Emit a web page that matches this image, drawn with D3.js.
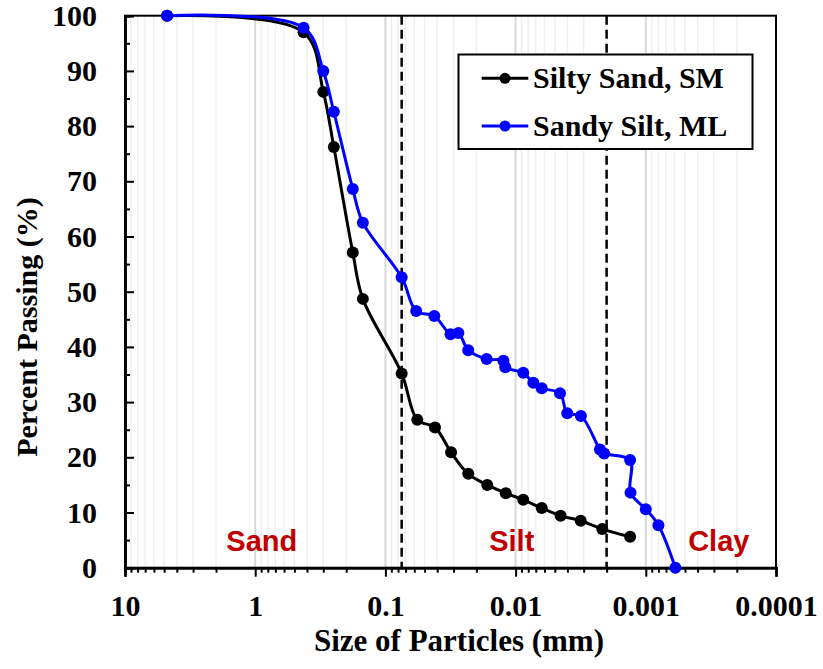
<!DOCTYPE html>
<html>
<head>
<meta charset="utf-8">
<script src="https://cdn.jsdelivr.net/npm/d3@7"></script>
<style>
    body { margin: 0; background: #fff; }
    svg text { font-family: "Liberation Serif", "Times New Roman", Times, "DejaVu Serif", serif; font-weight: bold; }
</style>
</head>
<body>
<svg id="chart" width="823" height="669"></svg>
<script>
// grain size (mm) and percent passing
let smSize = [4.75, 0.425, 0.30, 0.249, 0.178, 0.149, 0.075, 0.0569, 0.0416, 0.0313, 0.0231, 0.0165, 0.0119, 0.00873, 0.0063, 0.00451, 0.00316, 0.00216, 0.00132];
let smPass = [100, 97.0, 86.2, 76.2, 57.1, 48.7, 35.2, 26.8, 25.4, 20.9, 17.0, 15.0, 13.5, 12.3, 10.8, 9.4, 8.5, 7.0, 5.6];

let mlSize = [4.75, 0.425, 0.30, 0.249, 0.178, 0.149, 0.075, 0.058, 0.0421, 0.0316, 0.0275, 0.0231, 0.0167, 0.0124, 0.012, 0.00873, 0.00731, 0.0063, 0.00456, 0.00401, 0.00315, 0.00225, 0.00209, 0.00132, 0.00131, 0.001, 0.0008, 0.000593];
let mlPass = [100, 97.8, 90.0, 82.6, 68.6, 62.5, 52.6, 46.5, 45.6, 42.3, 42.5, 39.4, 37.8, 37.5, 36.3, 35.3, 33.5, 32.5, 31.6, 28.0, 27.5, 21.4, 20.7, 19.5, 13.6, 10.6, 7.7, 0];

let seriesNames = ["Silty Sand, SM", "Sandy Silt, ML"];
let seriesColors = ["#000000", "#0000ff"];

let xTickValues = [10, 1, 0.1, 0.01, 0.001, 0.0001];
let yTickValues = [0, 10, 20, 30, 40, 50, 60, 70, 80, 90, 100];
let yMinorValues = [5, 15, 25, 35, 45, 55, 65, 75, 85, 95];

// boundaries: sand/silt 0.075 mm, silt/clay 0.002 mm
let boundaries = [0.075, 0.002];
let zoneNames = ["Sand", "Silt", "Clay"];
let zoneSize = [0.89, 0.0107, 0.000275];

const serif = "'Liberation Serif', 'Times New Roman', Times, 'DejaVu Serif', serif";

let svg = d3.select("#chart");
let margin = {top: 15.7, right: 47, bottom: 101.3, left: 125},
    width = 823 - margin.left - margin.right,
    height = 669 - margin.top - margin.bottom;

let x = d3.scaleLog().domain([10, 0.0001]).range([margin.left, margin.left + width]);
let y = d3.scaleLinear().domain([0, 100]).range([margin.top + height, margin.top]);

function isMajor(d) {
    return xTickValues.some(function (v) { return Math.abs(v - d) / v < 1e-6; });
}
let allTicks = x.ticks().filter(function (d) { return d < 9.99 && d > 0.000101; });
let minorTicks = x.ticks().filter(function (d) { return !isMajor(d); });

// vertical grid
svg.append("g").selectAll("line")
    .data(allTicks)
    .enter().append("line")
    .attr("x1", function (d) { return x(d); })
    .attr("x2", function (d) { return x(d); })
    .attr("y1", y(100))
    .attr("y2", y(0))
    .attr("stroke", function (d) { return isMajor(d) ? "#d9d9d9" : "#efefef"; })
    .attr("stroke-width", function (d) { return isMajor(d) ? 2 : 1.5; });

// boundary lines
svg.append("g").selectAll("line")
    .data(boundaries)
    .enter().append("line")
    .attr("x1", function (d) { return x(d); })
    .attr("x2", function (d) { return x(d); })
    .attr("y1", y(100))
    .attr("y2", y(0))
    .attr("stroke", "#000")
    .attr("stroke-width", 2.5)
    .attr("stroke-dasharray", "9,5");

// plot border
svg.append("rect")
    .attr("x", x(10)).attr("y", y(100))
    .attr("width", x(0.0001) - x(10)).attr("height", y(0) - y(100))
    .attr("fill", "none").attr("stroke", "#000").attr("stroke-width", 2);

// x axis
svg.append("g")
    .attr("transform", "translate(0," + y(0) + ")")
    .call(d3.axisBottom(x).tickValues(xTickValues).tickSize(9).tickPadding(18)
        .tickFormat(function (d) { return String(d); }));
svg.append("g")
    .attr("transform", "translate(0," + y(0) + ")")
    .call(d3.axisBottom(x).tickValues(minorTicks).tickSize(5).tickFormat(""));

// y axis
svg.append("g")
    .attr("transform", "translate(" + x(10) + ",0)")
    .call(d3.axisLeft(y).tickValues(yTickValues).tickSize(-9).tickPadding(28));
svg.append("g")
    .attr("transform", "translate(" + x(10) + ",0)")
    .call(d3.axisLeft(y).tickValues(yMinorValues).tickSize(-5).tickFormat(""));

svg.selectAll("g").attr("font-family", null);
svg.selectAll(".domain").attr("stroke", "#000").attr("stroke-width", 2.5);
svg.selectAll(".tick line").attr("stroke", "#000").attr("stroke-width", 2);
svg.selectAll(".tick text")
    .attr("fill", "#000")
    .style("font-family", serif)
    .style("font-weight", "bold")
    .style("font-size", "30px");

// axis titles
svg.append("text")
    .attr("x", 459).attr("y", 651)
    .attr("text-anchor", "middle")
    .style("font-family", serif)
    .style("font-size", "31px")
    .text("Size of Particles (mm)");

svg.append("text")
    .attr("transform", "translate(37,327) rotate(-90)")
    .attr("text-anchor", "middle")
    .style("font-family", serif)
    .style("font-size", "30px")
    .text("Percent Passing (%)");

// zone labels
svg.append("g").selectAll("text")
    .data(zoneNames)
    .enter().append("text")
    .attr("x", function (d, i) { return x(zoneSize[i]); })
    .attr("y", y(3))
    .attr("text-anchor", "middle")
    .attr("fill", "#c00000")
    .style("font-family", "'Liberation Sans', Arial, sans-serif")
    .style("font-size", "29px")
    .text(function (d) { return d; });

// series
let series = [
    {name: seriesNames[0], color: seriesColors[0], pts: smSize.map(function (s, i) { return [s, smPass[i]]; })},
    {name: seriesNames[1], color: seriesColors[1], pts: mlSize.map(function (s, i) { return [s, mlPass[i]]; })}
];

let line = d3.line()
    .x(function (d) { return x(d[0]); })
    .y(function (d) { return y(d[1]); })
    .curve(d3.curveCatmullRom.alpha(0.5));

series.forEach(function (s) {
    svg.append("path")
        .datum(s.pts)
        .attr("fill", "none")
        .attr("stroke", s.color)
        .attr("stroke-width", 3)
        .attr("d", line);
    svg.append("g").selectAll("circle")
        .data(s.pts)
        .enter().append("circle")
        .attr("cx", function (d) { return x(d[0]); })
        .attr("cy", function (d) { return y(d[1]); })
        .attr("r", 6)
        .attr("fill", s.color);
});

// legend
let legend = svg.append("g");
legend.append("rect")
    .attr("x", 458.5).attr("y", 54.5)
    .attr("width", 294).attr("height", 94.5)
    .attr("fill", "#fff").attr("stroke", "#000").attr("stroke-width", 2);

series.forEach(function (s, i) {
    let ly = 78.3 + i * 47.7;
    legend.append("line")
        .attr("x1", 481.7).attr("x2", 528.3)
        .attr("y1", ly).attr("y2", ly)
        .attr("stroke", s.color).attr("stroke-width", 3);
    legend.append("circle")
        .attr("cx", 505).attr("cy", ly).attr("r", 5.5).attr("fill", s.color);
    legend.append("text")
        .attr("x", 533).attr("y", ly + 10)
        .style("font-family", serif)
        .style("font-size", "30px")
        .text(s.name);
});
</script>
</body>
</html>
